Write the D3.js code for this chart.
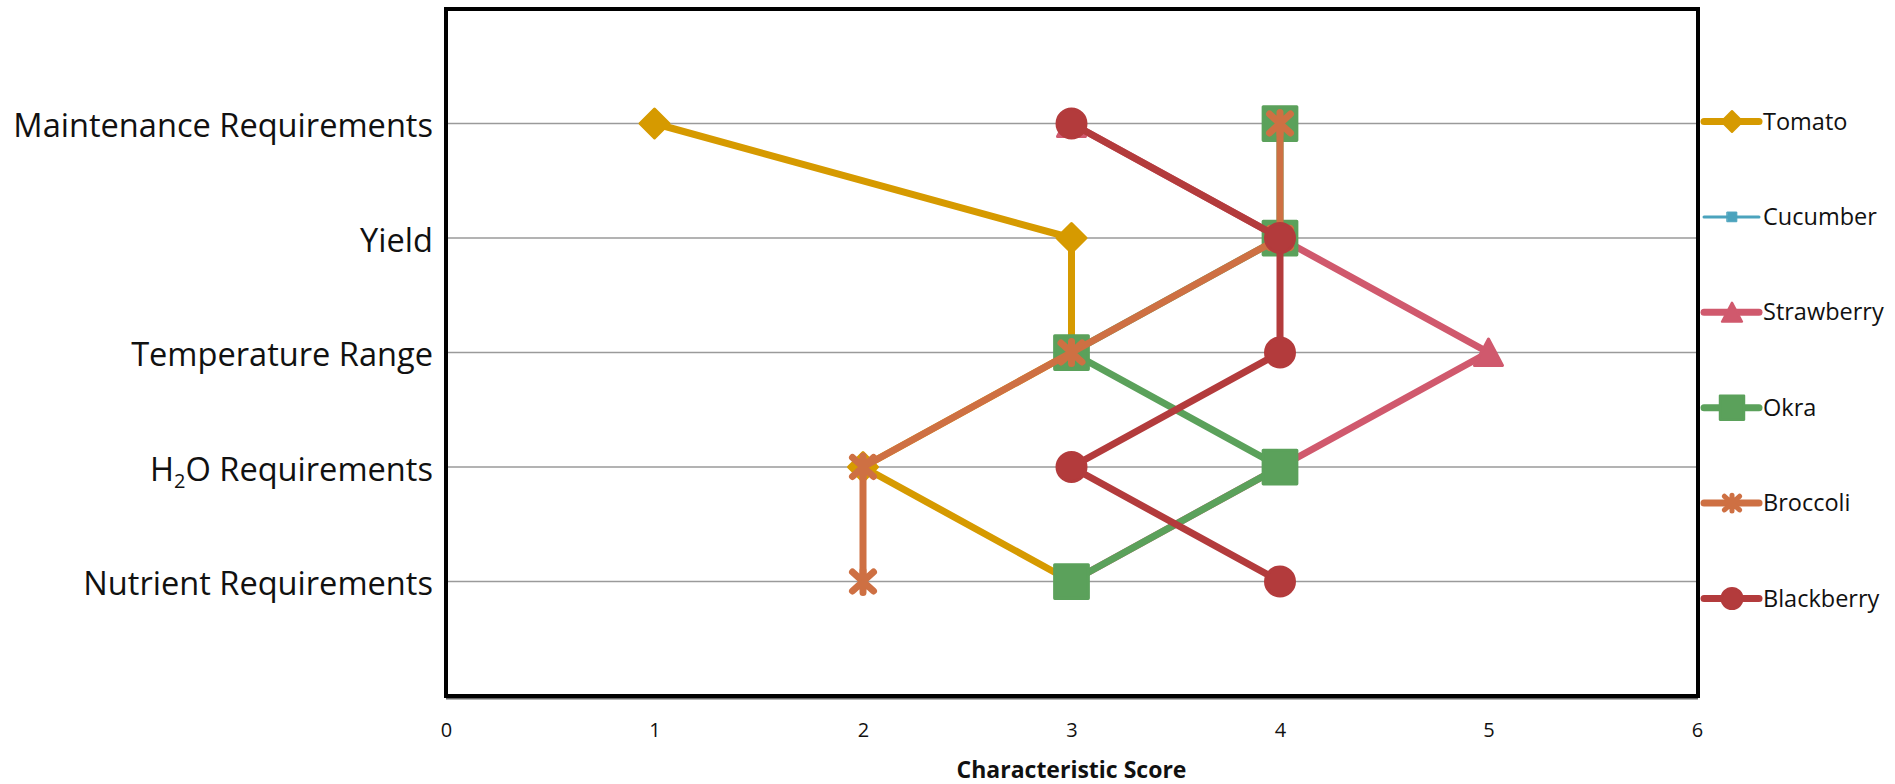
<!DOCTYPE html>
<html>
<head>
<meta charset="utf-8">
<script src="https://cdn.jsdelivr.net/npm/d3@7"></script>
<style>
  html, body { margin: 0; padding: 0; background: #fff; }
  svg { display: block; }
</style>
</head>
<body>
<svg id="chart" width="1895" height="784"></svg>
<script>
// ---------------- DATA ----------------
const categories = ["Maintenance Requirements", "Yield", "Temperature Range", "H2O Requirements", "Nutrient Requirements"];
const categoryPos = [5, 4, 3, 2, 1];
const xTicks = [0, 1, 2, 3, 4, 5, 6];
const seriesNames = ["Tomato", "Cucumber", "Strawberry", "Okra", "Broccoli", "Blackberry"];
const tomato     = [1, 3, 3, 2, 3];
const cucumber   = [4, 4, 3, 4, 3];
const strawberry = [3, 4, 5, 4, 3];
const okra       = [4, 4, 3, 4, 3];
const broccoli   = [4, 4, 3, 2, 2];
const blackberry = [3, 4, 4, 3, 4];
const xTitle = "Characteristic Score";

// ---------------- STYLE ----------------
const colors  = ["#D69A00", "#4BA3BD", "#D0596D", "#5BA15B", "#CE7043", "#B33B3C"];
const shapes  = ["diamond", "square", "triangle", "square", "star", "circle"];
const widths  = [7, 3, 7, 7, 7, 7];
const mSizes  = [1, 0.42, 1, 1.05, 1, 1];
const seriesValues = [tomato, cucumber, strawberry, okra, broccoli, blackberry];

const svg = d3.select("#chart");
const plot = { left: 446, right: 1698, top: 9, bottom: 696 };
const x = d3.scaleLinear().domain([0, 6]).range([plot.left, 1697]);
const y = d3.scaleLinear().domain([0, 6]).range([plot.bottom, plot.top]);
const FONT = "'Open Sans', 'Noto Sans', sans-serif";

// custom marker shapes (s = scale factor)
function markerPath(shape, s) {
  const p = d3.path();
  if (shape === "diamond") {
    const r = 14.5 * s;
    p.moveTo(0, -r); p.lineTo(r, 0); p.lineTo(0, r); p.lineTo(-r, 0); p.closePath();
  } else if (shape === "square") {
    const h = 16 * s;
    p.rect(-h, -h, 2 * h, 2 * h);
  } else if (shape === "triangle") {
    p.moveTo(0, -13.5 * s); p.lineTo(14 * s, 13 * s); p.lineTo(-14 * s, 13 * s); p.closePath();
  } else if (shape === "circle") {
    p.arc(0, 0, 14.5 * s, 0, 2 * Math.PI);
  } else if (shape === "star") {
    const a = 10.5 * s, b = 9.5 * s, v = 11 * s;
    p.moveTo(-a, -b); p.lineTo(a, b);
    p.moveTo(-a, b); p.lineTo(a, -b);
    p.moveTo(0, -v); p.lineTo(0, v);
  }
  return p.toString();
}
function drawMarker(g, shape, color, s, cx, cy) {
  const path = g.append("path")
    .attr("d", markerPath(shape, s))
    .attr("transform", `translate(${cx},${cy})`)
    .attr("stroke", color)
    .attr("stroke-linejoin", "round")
    .attr("stroke-linecap", "round");
  if (shape === "star") {
    path.attr("fill", "none").attr("stroke-width", 7 * s);
  } else {
    path.attr("fill", color).attr("stroke-width", shape === "square" && s < 0.6 ? 1 : 3 * s);
  }
}

// ---------------- GRIDLINES ----------------
svg.append("g").selectAll("line").data(categoryPos).join("line")
  .attr("x1", plot.left).attr("x2", plot.right)
  .attr("y1", d => y(d)).attr("y2", d => y(d))
  .attr("stroke", "#9a9a9a").attr("stroke-width", 1.7);

// ---------------- SERIES ----------------
const line = d3.line().x(d => x(d[0])).y(d => y(d[1]));
seriesValues.forEach((vals, si) => {
  const pts = vals.map((v, i) => [v, categoryPos[i]]);
  const g = svg.append("g");
  g.append("path").attr("d", line(pts))
    .attr("fill", "none").attr("stroke", colors[si])
    .attr("stroke-width", widths[si])
    .attr("stroke-linejoin", "round").attr("stroke-linecap", "round");
  pts.forEach(p => drawMarker(g, shapes[si], colors[si], mSizes[si], x(p[0]), y(p[1])));
});

// ---------------- BORDER ----------------
svg.append("line").attr("x1", plot.left).attr("x2", plot.right)
  .attr("y1", plot.bottom + 2.5).attr("y2", plot.bottom + 2.5)
  .attr("stroke", "#666").attr("stroke-width", 2);
svg.append("rect")
  .attr("x", plot.left).attr("y", plot.top)
  .attr("width", plot.right - plot.left).attr("height", plot.bottom - plot.top)
  .attr("fill", "none").attr("stroke", "#000").attr("stroke-width", 4);

// ---------------- AXES ----------------
const xAxis = svg.append("g")
  .attr("transform", `translate(0,${723})`)
  .call(d3.axisBottom(x).tickValues(xTicks).tickFormat(d3.format("d")).tickSize(0).tickPadding(0));
xAxis.select(".domain").remove();
xAxis.selectAll("text").attr("font-family", FONT).attr("font-size", 20).attr("fill", "#111");

const yAxis = svg.append("g")
  .attr("transform", `translate(${plot.left},0)`)
  .call(d3.axisLeft(y).tickValues(categoryPos).tickFormat((d, i) => categories[i]).tickSize(0).tickPadding(13));
yAxis.select(".domain").remove();
yAxis.selectAll("text")
  .attr("font-family", FONT).attr("font-size", 32.6).attr("fill", "#111").attr("dy", "0.4em")
  .each(function(d, i) {
    const t = d3.select(this);
    const label = categories[i];
    if (label.startsWith("H2O")) {
      t.text(null);
      t.append("tspan").text("H");
      t.append("tspan").text("2").attr("font-size", 20).attr("dy", 7);
      t.append("tspan").text("O" + label.slice(3)).attr("dy", -7);
    }
  });

svg.append("text")
  .attr("x", (plot.left + 1697) / 2).attr("y", 778)
  .attr("text-anchor", "middle")
  .attr("font-family", FONT).attr("font-size", 23).attr("font-weight", "bold").attr("fill", "#111")
  .text(xTitle);

// ---------------- LEGEND ----------------
const legend = svg.append("g");
seriesNames.forEach((name, si) => {
  const cy = 121.5 + si * 95.4;
  const g = legend.append("g");
  g.append("line").attr("x1", 1704).attr("x2", 1759).attr("y1", cy).attr("y2", cy)
    .attr("stroke", colors[si]).attr("stroke-width", widths[si]).attr("stroke-linecap", "round");
  drawMarker(g, shapes[si], colors[si], mSizes[si] * 0.72, 1732, cy);
  g.append("text").attr("x", 1763).attr("y", cy + 8)
    .attr("font-family", FONT).attr("font-size", 23.5).attr("fill", "#111")
    .text(name);
});
</script>
</body>
</html>
